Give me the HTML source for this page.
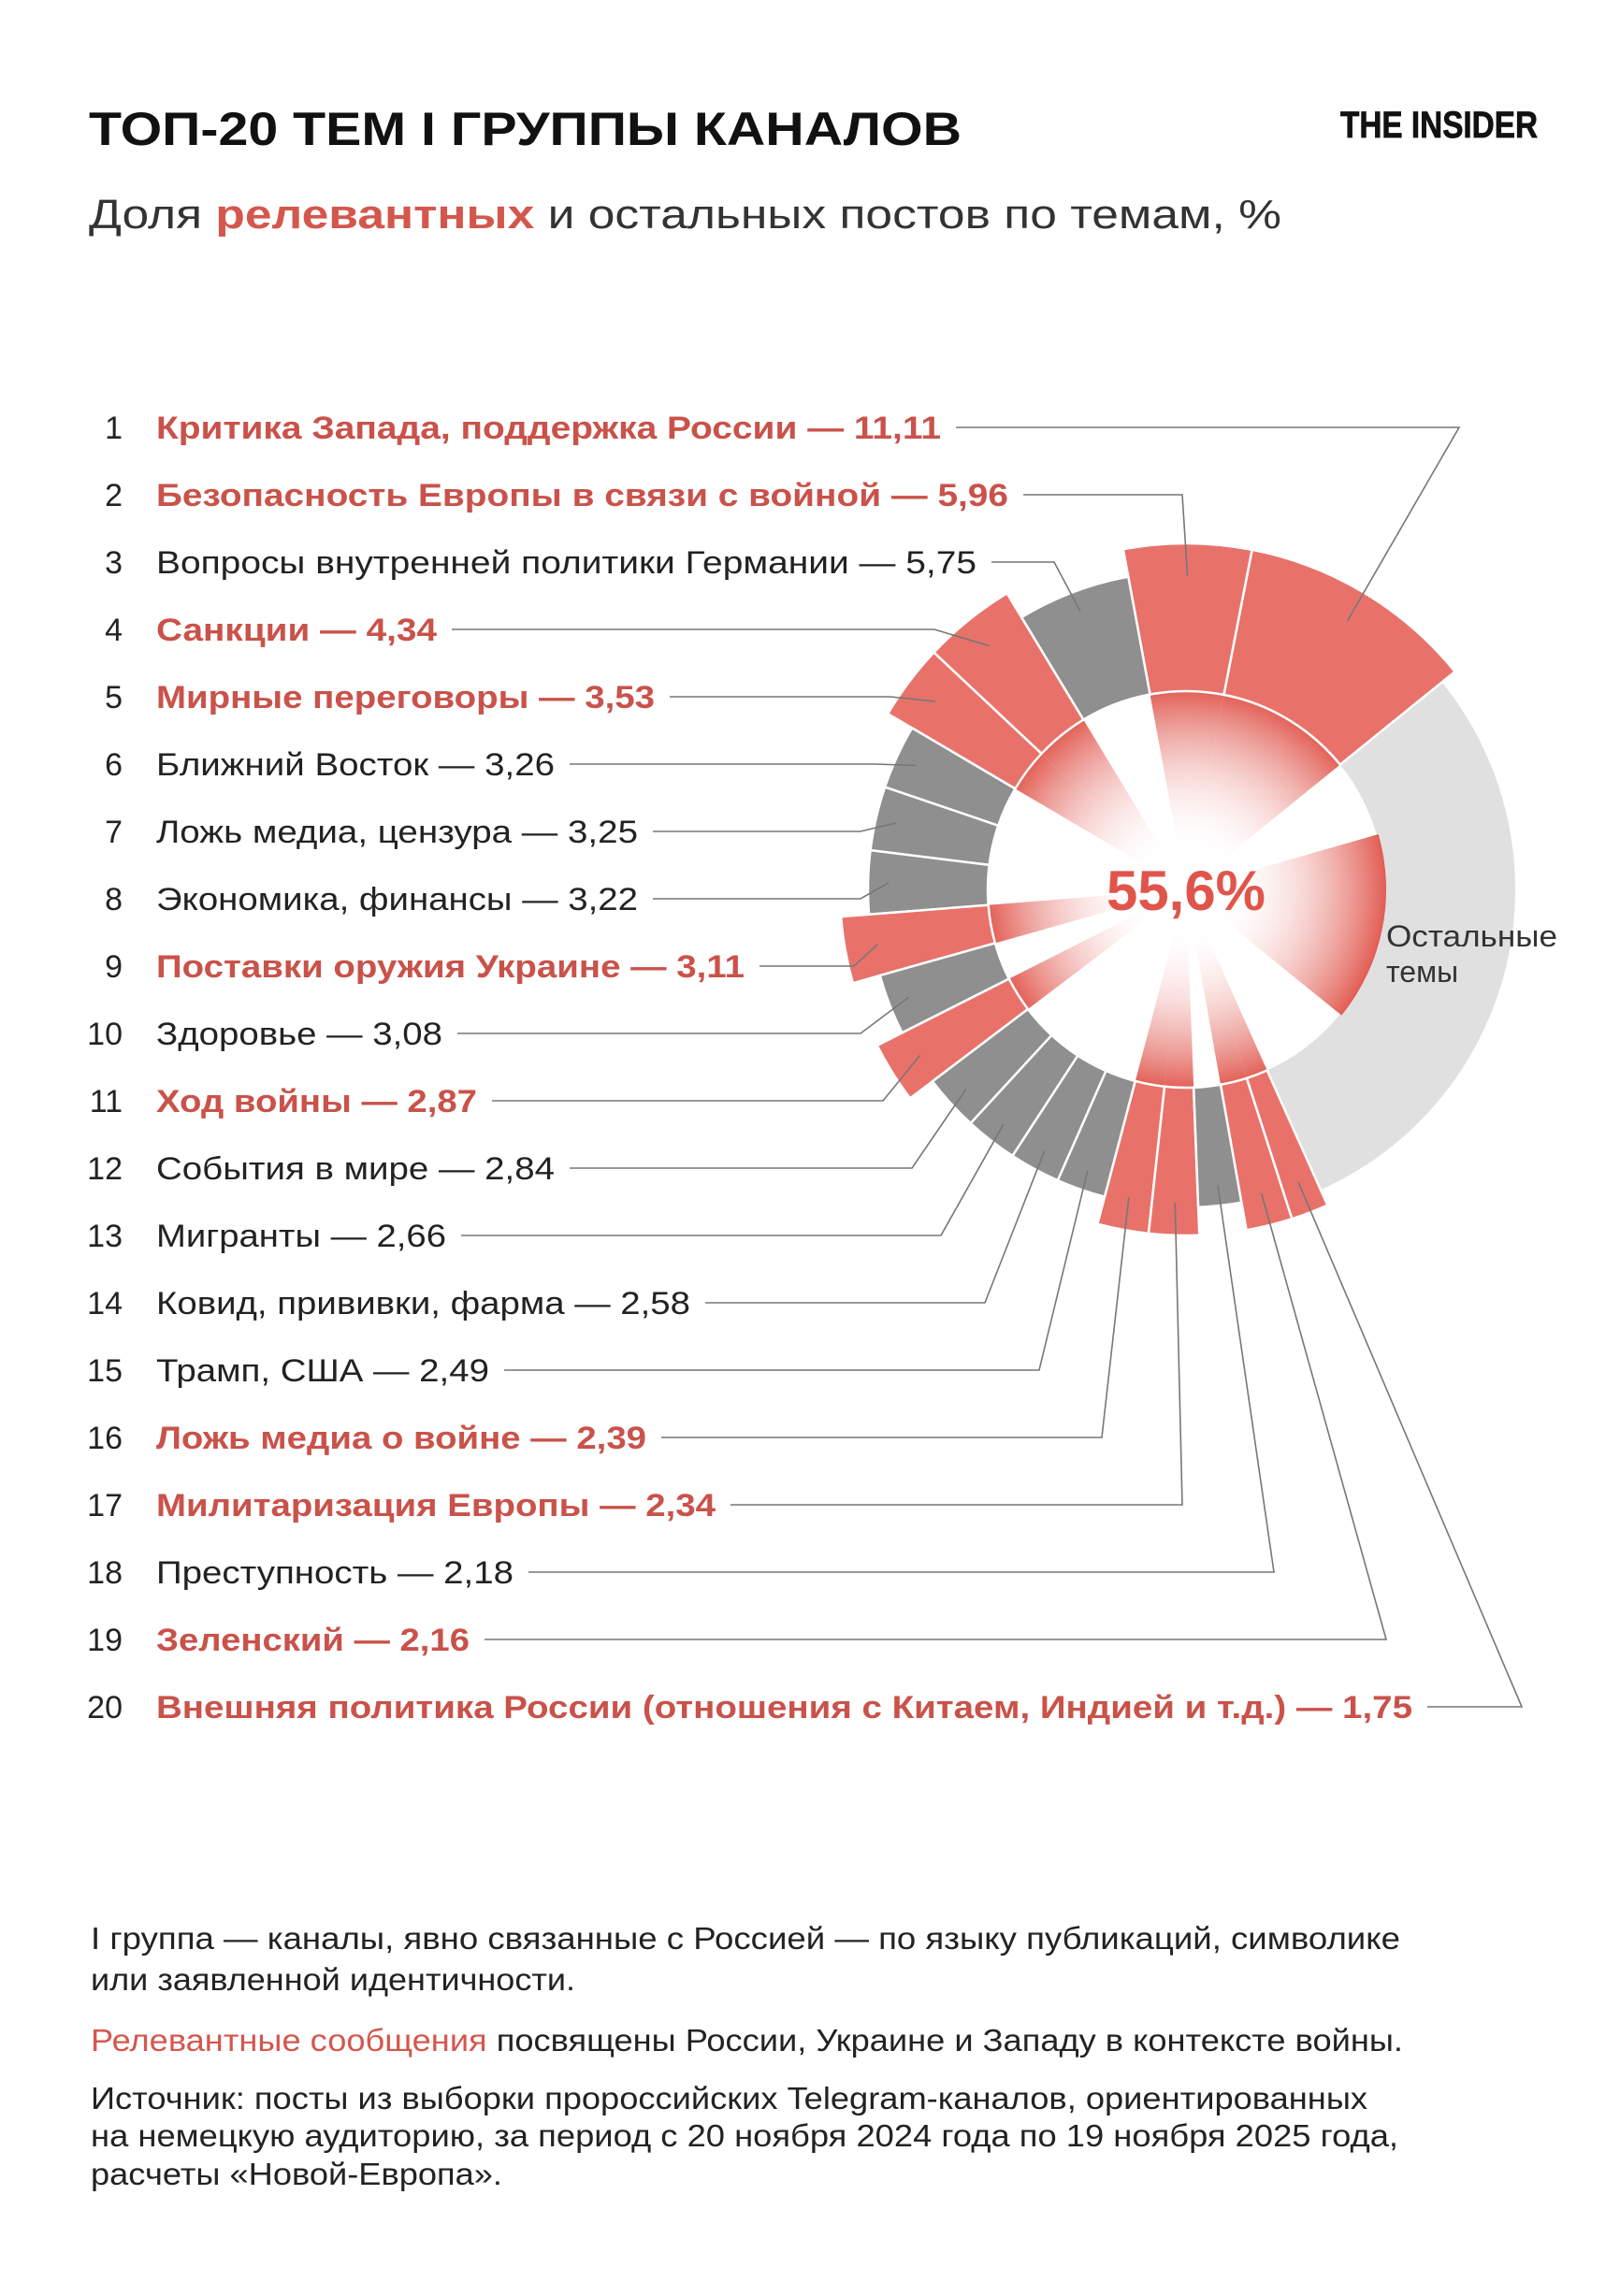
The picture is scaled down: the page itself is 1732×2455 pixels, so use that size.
<!DOCTYPE html>
<html><head><meta charset="utf-8"><style>
html,body{margin:0;padding:0;background:#fff;}
svg{display:block;}
text{font-family:"Liberation Sans",sans-serif;}
</style></head><body>
<svg id="s" width="1732" height="2455" viewBox="0 0 1732 2455" xmlns="http://www.w3.org/2000/svg">
<defs>
<radialGradient id="g" gradientUnits="userSpaceOnUse" cx="1268" cy="951" r="214">
<stop offset="0.18" stop-color="#ffffff" stop-opacity="0"/>
<stop offset="1" stop-color="#e0554b" stop-opacity="0.95"/>
</radialGradient>
</defs>
<rect width="1732" height="2455" fill="#fff"/>
<text x="95" y="155" font-size="50" font-weight="bold" fill="#111" textLength="933" lengthAdjust="spacingAndGlyphs">ТОП-20 ТЕМ I ГРУППЫ КАНАЛОВ</text>
<text x="1433" y="147" font-size="40" font-weight="bold" fill="#111" textLength="211" lengthAdjust="spacingAndGlyphs" stroke="#111" stroke-width="0.8">THE INSIDER</text>
<text x="95" y="244" font-size="44" fill="#333" textLength="1275" lengthAdjust="spacingAndGlyphs">Доля <tspan fill="#d4574d" font-weight="bold">релевантных</tspan> и остальных постов по темам, %</text>
<g id="chart"></g>
<g id="lines" stroke="#777" stroke-width="1.6" fill="none"></g>
<g id="labels"></g>
<text x="1268" y="973" font-size="60" font-weight="bold" fill="#e0554b" text-anchor="middle" textLength="170" lengthAdjust="spacingAndGlyphs">55,6%</text>
<text x="1482" y="1012" font-size="32" fill="#333" textLength="183" lengthAdjust="spacingAndGlyphs">Остальные</text>
<text x="1482" y="1050" font-size="32" fill="#333">темы</text>
<g font-size="33" fill="#222">
<text x="97" y="2084" textLength="1400" lengthAdjust="spacingAndGlyphs">I группа — каналы, явно связанные с Россией — по языку публикаций, символике</text>
<text x="97" y="2128" textLength="518" lengthAdjust="spacingAndGlyphs">или заявленной идентичности.</text>
<text x="97" y="2193" textLength="1403" lengthAdjust="spacingAndGlyphs"><tspan fill="#d4574d">Релевантные сообщения</tspan> посвящены России, Украине и Западу в контексте войны.</text>
<text x="97" y="2255" textLength="1365" lengthAdjust="spacingAndGlyphs">Источник: посты из выборки пророссийских Telegram-каналов, ориентированных</text>
<text x="97" y="2295" textLength="1398" lengthAdjust="spacingAndGlyphs">на немецкую аудиторию, за период с 20 ноября 2024 года по 19 ноября 2025 года,</text>
<text x="97" y="2336" textLength="440" lengthAdjust="spacingAndGlyphs">расчеты «Новой-Европа».</text>
</g>
</svg>
<script>
var NS="http://www.w3.org/2000/svg",cx=1268,cy=951;
var T=[["Критика Запада, поддержка России — 11,11",11.11,1,1006,1560],
["Безопасность Европы в связи с войной — 5,96",5.96,1,1078,1264],
["Вопросы внутренней политики Германии — 5,75",5.75,0,1044,1127],
["Санкции — 4,34",4.34,1,467,999],
["Мирные переговоры — 3,53",3.53,1,700,952],
["Ближний Восток — 3,26",3.26,0,593,936],
["Ложь медиа, цензура — 3,25",3.25,0,682,920],
["Экономика, финансы — 3,22",3.22,0,682,920],
["Поставки оружия Украине — 3,11",3.11,1,796,913],
["Здоровье — 3,08",3.08,0,473,920],
["Ход войны — 2,87",2.87,1,510,944],
["События в мире — 2,84",2.84,0,593,975],
["Мигранты — 2,66",2.66,0,477,1006],
["Ковид, прививки, фарма — 2,58",2.58,0,738,1053],
["Трамп, США — 2,49",2.49,0,523,1111],
["Ложь медиа о войне — 2,39",2.39,1,691,1178],
["Милитаризация Европы — 2,34",2.34,1,765,1264],
["Преступность — 2,18",2.18,0,549,1362],
["Зеленский — 2,16",2.16,1,502,1482],
["Внешняя политика России (отношения с Китаем, Индией и т.д.) — 1,75",1.75,1,1510,1627]];
function P(r,a){a=a*Math.PI/180;return [cx+r*Math.sin(a),cy-r*Math.cos(a)];}
function sector(r0,r1,a0,a1){var p1=P(r1,a0),p2=P(r1,a1),p3=P(r0,a1),p4=P(r0,a0),l=(a1-a0)>180?1:0;
var d="M"+p1+" A"+r1+" "+r1+" 0 "+l+" 1 "+p2;
if(r0>0)d+=" L"+p3+" A"+r0+" "+r0+" 0 "+l+" 0 "+p4;else d+=" L"+cx+","+cy;return d+"Z";}
function add(g,tag,at){var e=document.createElementNS(NS,tag);for(var k in at)e.setAttribute(k,at[k]);document.getElementById(g).appendChild(e);return e;}
var segs=[];segs.push([11,51]);var a=11;
for(var i=1;i<20;i++){var w=T[i][1]*3.6;segs.push([a-w,a]);a-=w;}
add("chart","path",{d:sector(212,352,51,155.9),fill:"#e0e0e0"});
add("chart","path",{d:sector(0,214,74,129),fill:"url(#g)"});
for(i=0;i<20;i++){if(T[i][2])add("chart","path",{d:sector(0,214,segs[i][0],segs[i][1]),fill:"url(#g)"});}
for(i=0;i<20;i++){var red=T[i][2];
add("chart","path",{d:sector(212,red?370:340,segs[i][0],segs[i][1]),fill:red?"#e8726a":"#8f8f8f",stroke:"#fff","stroke-width":2.5});}
for(i=0;i<20;i++){var y=457+72*i,red=T[i][2];
add("labels","text",{x:131,y:y+12,"font-size":34,fill:"#222","text-anchor":"end"}).textContent=String(i+1);
var t=add("labels","text",{x:167,y:y+12,"font-size":34,fill:red?"#c9524a":"#222","font-weight":red?"bold":"normal",textLength:T[i][3]-167,lengthAdjust:"spacingAndGlyphs"});t.textContent=T[i][0];
var m=(segs[i][0]+segs[i][1])/2,e=P(red?335:318,m);
add("lines","polyline",{points:(T[i][3]+16)+","+y+" "+T[i][4]+","+y+" "+e[0]+","+e[1]});}
</script>
</body></html>
